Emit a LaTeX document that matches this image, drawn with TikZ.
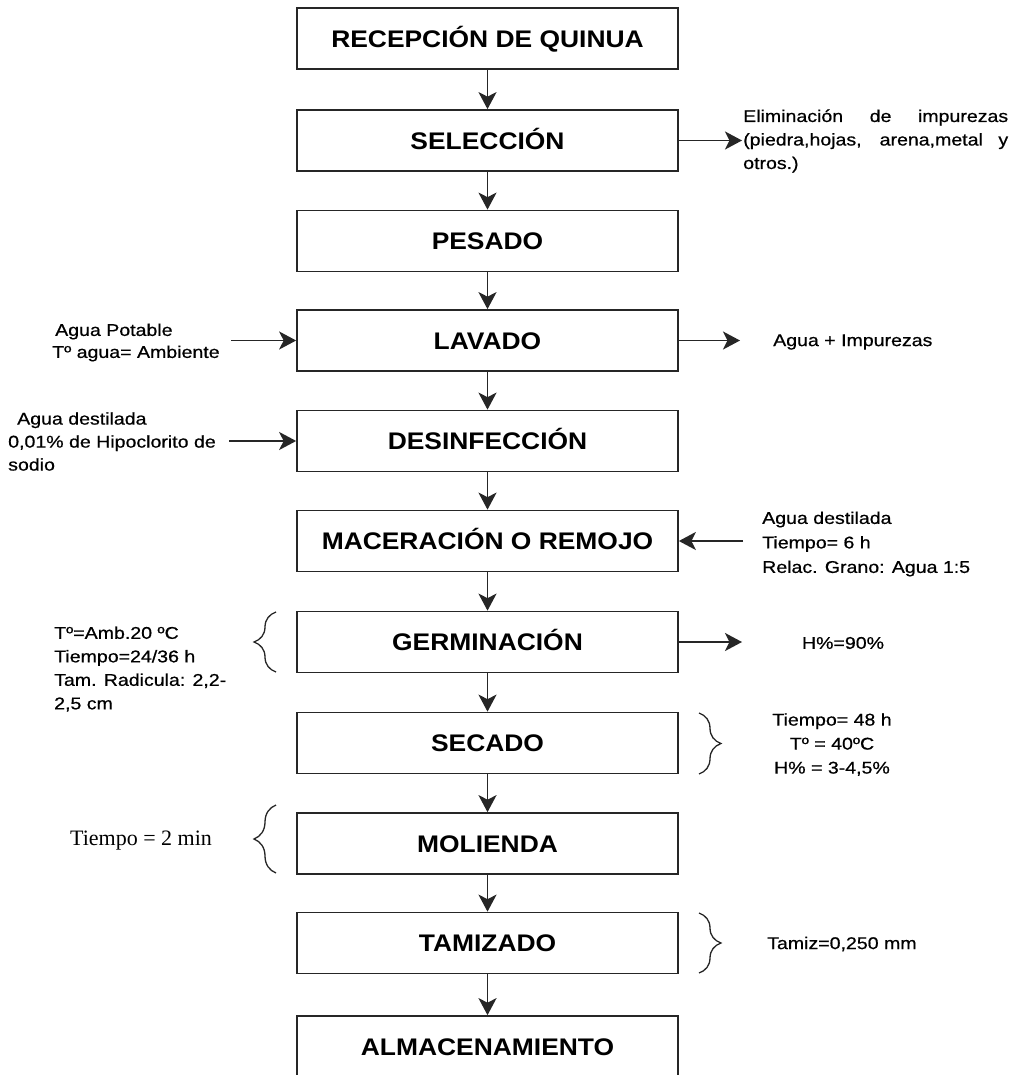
\documentclass[tikz,border=0pt]{standalone}
\usepackage{fontspec}
\setmainfont{Liberation Sans}
\newfontfamily\boxfont{Liberation Sans}[FakeStretch=1.1]
\newfontfamily\sidefont{Liberation Sans}[FakeStretch=1.15,FakeBold=0.6]
\newfontfamily\serfont{Liberation Serif}
\usetikzlibrary{arrows.meta,decorations.pathreplacing}
\begin{document}
\begin{tikzpicture}[x=1pt,y=-1pt,
  stepbox/.style={draw=black!85,line width=1.7pt,minimum width=381pt,minimum height=61pt,inner sep=0pt,
    font={\boxfont\bfseries\fontsize{24}{28}\selectfont},text height=17.2pt,text depth=0pt},
  arr/.style={line width=1.9pt,draw=black!85,-{Stealth[length=17pt,width=18pt,inset=4.5pt]}},
  side/.style={inner sep=0pt,font={\sidefont\fontsize{17}{23.5}\selectfont}},
  brc/.style={line width=1.3pt,draw=black!85,decorate,decoration={brace,amplitude=22pt}}]
\useasboundingbox (0,0) rectangle (1012,1075);
\clip (0,0) rectangle (1012,1075);
\fill[white] (0,0) rectangle (1012,1075);

% process boxes
\node[stepbox] (b1) at (487.5,38.5) {RECEPCIÓN DE QUINUA};
\node[stepbox] (b2) at (487.5,140.5) {SELECCIÓN};
\node[stepbox] (b3) at (487.5,241) {PESADO};
\node[stepbox] (b4) at (487.5,340.5) {LAVADO};
\node[stepbox] (b5) at (487.5,441) {DESINFECCIÓN};
\node[stepbox] (b6) at (487.5,541) {MACERACIÓN O REMOJO};
\node[stepbox] (b7) at (487.5,642) {GERMINACIÓN};
\node[stepbox] (b8) at (487.5,743) {SECADO};
\node[stepbox] (b9) at (487.5,843.5) {MOLIENDA};
\node[stepbox] (b10) at (487.5,943) {TAMIZADO};
\node[stepbox] (b11) at (487.5,1046.5) {ALMACENAMIENTO};

\foreach \a/\b in {b1/b2,b2/b3,b3/b4,b4/b5,b5/b6,b6/b7,b7/b8,b8/b9,b9/b10,b10/b11}
  \draw[arr] (\a.south) -- (\b.north);

% SELECCION
\node[side,anchor=west,text width=265pt,align=justify] (t2) at (743,141)
  {\tolerance=10000 Eliminación de impurezas\linebreak (piedra,hojas, arena,metal y\linebreak otros.)};
\coordinate (e2) at (742,140.5);
\draw[arr] (b2.east) -- (e2);

% LAVADO
\node[side,anchor=west,align=left,font={\sidefont\fontsize{17}{22}\selectfont}] (t4l) at (52,342.5)
  {\hspace*{3pt}Agua Potable\\Tº agua= Ambiente};
\coordinate (s4) at (231,340.5);
\draw[arr] (s4) -- (b4.west);
\coordinate (e4) at (740,340.5);
\draw[arr] (b4.east) -- (e4);
\node[side,anchor=west] (t4r) at (773,342) {Agua + Impurezas};

% DESINFECCION
\node[side,anchor=west,align=left,font={\sidefont\fontsize{17}{23}\selectfont}] (t5) at (8,441.5)
  {\hspace*{9pt}Agua destilada\\0,01\% de Hipoclorito de\\sodio};
\coordinate (s5) at (229,441);
\draw[arr] (s5) -- (b5.west);

% MACERACION
\coordinate (s6) at (743,541);
\draw[arr] (s6) -- (b6.east);
\node[side,anchor=west,align=left,font={\sidefont\fontsize{17}{24.5}\selectfont}] (t6) at (762,544)
  {Agua destilada\\Tiempo= 6 h\\Relac. Grano: Agua 1:5};

% GERMINACION
\draw[brc] (276,672) -- (276,612);
\node[side,anchor=west,align=left] (t7l) at (54,669)
  {Tº=Amb.20 ºC\\Tiempo=24/36 h\\Tam. Radicula: 2,2-\\2,5 cm};
\coordinate (e7) at (742,642);
\draw[arr] (b7.east) -- (e7);
\node[side] (t7r) at (843,643) {H\%=90\%};

% SECADO
\draw[brc] (699,713) -- (699,774);
\node[side,align=center,font={\sidefont\fontsize{17}{24}\selectfont}] (t8) at (832,744.5)
  {Tiempo= 48 h\\Tº = 40ºC\\H\% = 3-4,5\%};

% MOLIENDA
\draw[brc] (276,873) -- (276,805);
\node[inner sep=0pt,font={\serfont\fontsize{22}{26}\selectfont}] (t9) at (141,841) {Tiempo = 2 min};

% TAMIZADO
\draw[brc] (699,913) -- (699,973);
\node[side,anchor=west] (t10) at (767,944) {Tamiz=0,250 mm};
\end{tikzpicture}
\end{document}
